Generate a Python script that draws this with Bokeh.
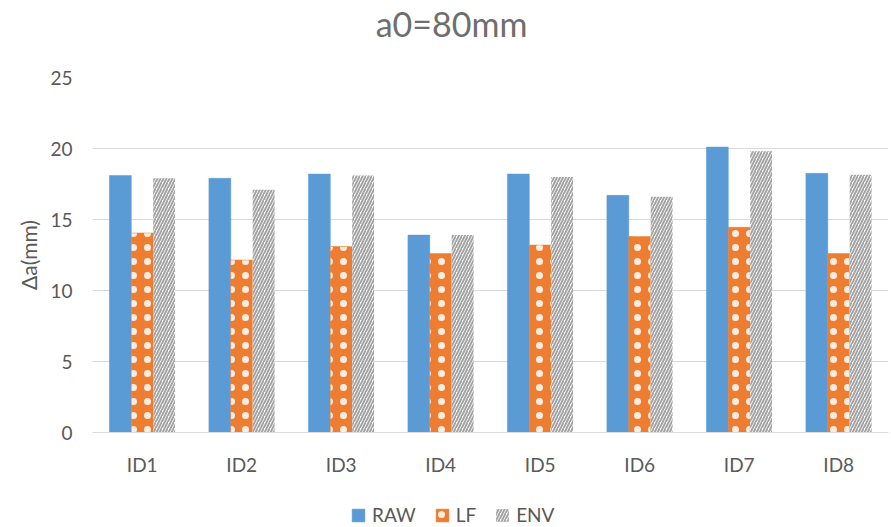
from bokeh.plotting import figure
from bokeh.layouts import column
from bokeh.models import ColumnDataSource, Range1d, Legend, LegendItem, FixedTicker, Label
from bokeh.transform import dodge
from bokeh.embed import file_html
from bokeh.resources import INLINE

categories = ["ID1", "ID2", "ID3", "ID4", "ID5", "ID6", "ID7", "ID8"]
raw = [18.1, 17.9, 18.2, 13.9, 18.2, 16.7, 20.1, 18.25]
lf = [14.05, 12.15, 13.1, 12.6, 13.2, 13.8, 14.45, 12.6]
env = [17.9, 17.1, 18.1, 13.9, 18.0, 16.6, 19.8, 18.15]
yticks = [0, 5, 10, 15, 20, 25]
series_names = ["RAW", "LF", "ENV"]
title_text = "a0=80mm"

FONT = "Lato"
GRAY = "#595959"
W = 889

RAW_STYLE = dict(fill_color="#5b9bd5", line_color="#5b9bd5", line_width=0.5)
LF_STYLE = dict(fill_color="#ed7d31", line_color="#ed7d31", line_width=0.5,
                hatch_pattern="dot", hatch_color="white", hatch_scale=14, hatch_weight=0.3,
                hatch_alpha=0.85)
ENV_STYLE = dict(fill_color="white", line_color=None,
                 hatch_pattern="/", hatch_color="#a5a5a5", hatch_scale=6, hatch_weight=2)

src = ColumnDataSource(dict(cat=categories, raw=raw, lf=lf, env=env))
cols = ["raw", "lf", "env"]

# title strip
hdr = figure(width=W, height=44, output_backend="svg", toolbar_location=None,
             x_range=categories, y_range=Range1d(0, 1), min_border=0)
hdr.axis.visible = False
hdr.grid.visible = False
hdr.outline_line_color = None
hdr.add_layout(Label(x=359, y=21, x_units="screen", y_units="screen", text=title_text,
                     text_align="center", text_baseline="middle", text_font=FONT,
                     text_font_size="34px", text_color="#6e6e6e"))

p = figure(x_range=categories, y_range=Range1d(0, 25), width=W, height=446,
           output_backend="svg", toolbar_location=None,
           min_border_left=92, min_border_top=33, min_border_right=1, min_border_bottom=58)

w = 0.22
for col, off, st in zip(cols, (-w, 0, w), (RAW_STYLE, LF_STYLE, ENV_STYLE)):
    p.vbar(x=dodge("cat", off, range=p.x_range), top=col, width=w, source=src, **st)

p.outline_line_color = None
p.xgrid.grid_line_color = None
p.ygrid.grid_line_color = "#d9d9d9"
p.ygrid.grid_line_width = 1.2

p.yaxis.ticker = FixedTicker(ticks=yticks)
p.yaxis.axis_line_color = None
p.yaxis.major_tick_line_color = None
p.yaxis.minor_tick_line_color = None
p.yaxis.major_label_text_font = FONT
p.yaxis.major_label_text_font_size = "19px"
p.yaxis.major_label_text_color = GRAY
p.yaxis.major_label_standoff = 14
p.yaxis.axis_label = "Δa(mm)"
p.yaxis.axis_label_text_font = FONT
p.yaxis.axis_label_text_font_size = "21px"
p.yaxis.axis_label_text_font_style = "normal"
p.yaxis.axis_label_text_color = GRAY
p.yaxis.axis_label_standoff = 6

p.xaxis.axis_line_color = "#d9d9d9"
p.xaxis.axis_line_width = 1.2
p.xaxis.major_tick_line_color = None
p.xaxis.minor_tick_line_color = None
p.xaxis.major_label_text_font = FONT
p.xaxis.major_label_text_font_size = "19px"
p.xaxis.major_label_text_color = GRAY
p.xaxis.major_label_standoff = 14

# legend strip (renderers hidden; they only provide legend swatches)
lg = figure(width=W, height=36, output_backend="svg", toolbar_location=None,
            x_range=categories, y_range=Range1d(0, 1), min_border=0)
lg.axis.visible = False
lg.grid.visible = False
lg.outline_line_color = None
rr = [lg.vbar(x="cat", top=col, width=0.1, source=src, visible=False, **st)
      for col, st in zip(cols, (RAW_STYLE, LF_STYLE, ENV_STYLE))]
legend = Legend(items=[LegendItem(label=n, renderers=[r]) for n, r in zip(series_names, rr)],
                orientation="horizontal", location=(258, 0),
                label_text_font=FONT, label_text_font_size="19px",
                label_text_color=GRAY, glyph_width=16, glyph_height=16,
                spacing=18, label_standoff=6, border_line_color=None,
                background_fill_alpha=0, margin=0, padding=4)
lg.add_layout(legend, "center")

open("out.html", "w").write(file_html(column(hdr, p, lg, spacing=0), INLINE))
